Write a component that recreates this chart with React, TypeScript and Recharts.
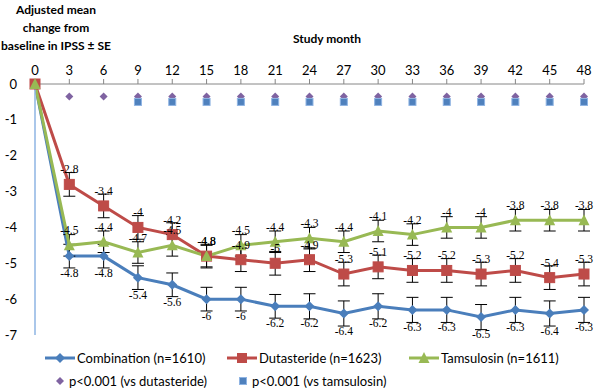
import React from 'react';
import { ComposedChart, Line, Scatter, XAxis, YAxis, ErrorBar, LabelList } from 'recharts';

const months = [0, 3, 6, 9, 12, 15, 18, 21, 24, 27, 30, 33, 36, 39, 42, 45, 48];
const combination = [0, -4.8, -4.8, -5.4, -5.6, -6, -6, -6.2, -6.2, -6.4, -6.2, -6.3, -6.3, -6.5, -6.3, -6.4, -6.3];
const dutasteride = [0, -2.8, -3.4, -4, -4.2, -4.8, -4.9, -5, -4.9, -5.3, -5.1, -5.2, -5.2, -5.3, -5.2, -5.4, -5.3];
const tamsulosin = [0, -4.5, -4.4, -4.7, -4.5, -4.8, -4.5, -4.4, -4.3, -4.4, -4.1, -4.2, -4, -4, -3.8, -3.8, -3.8];
const combinationSE = [0, 0.33, 0.33, 0.33, 0.33, 0.33, 0.33, 0.33, 0.35, 0.35, 0.35, 0.35, 0.35, 0.35, 0.35, 0.35, 0.35];
const dutasterideSE = [0, 0.33, 0.33, 0.33, 0.33, 0.33, 0.33, 0.33, 0.33, 0.33, 0.33, 0.33, 0.33, 0.33, 0.33, 0.33, 0.33];
const tamsulosinSE = [0, 0.3, 0.3, 0.3, 0.3, 0.3, 0.3, 0.3, 0.3, 0.3, 0.3, 0.3, 0.3, 0.3, 0.3, 0.3, 0.3];

const yTicks = [0, -1, -2, -3, -4, -5, -6, -7];

// significance markers sit in a row just under the zero line
const vsDutasterideMonths = [3, 6, 9, 12, 15, 18, 21, 24, 27, 30, 33, 36, 39, 42, 45, 48];
const vsTamsulosinMonths = [9, 12, 15, 18, 21, 24, 27, 30, 33, 36, 39, 42, 45, 48];
const vsDutasteride = vsDutasterideMonths.map(m => ({ month: m, mark: -0.35 }));
const vsTamsulosin = vsTamsulosinMonths.map(m => ({ month: m, mark: -0.5 }));

const data = months.map((m, i) => ({
  month: m,
  combination: combination[i],
  dutasteride: dutasteride[i],
  tamsulosin: tamsulosin[i],
  combinationSE: combinationSE[i],
  dutasterideSE: dutasterideSE[i],
  tamsulosinSE: tamsulosinSE[i],
}));

const BLUE = '#4A7EBB';
const RED = '#BE4B48';
const GREEN = '#98B954';
const PURPLE = '#7F63A1';
const SQ_BLUE = '#4F81BD';

const font = 'Lato, "Open Sans", sans-serif';
const labelStyle = { fontFamily: '"Liberation Serif", serif', fontSize: 11.5, fill: '#000' };
const hideZero = (v: any) => (v === 0 ? '' : v);

const Diamond = (props: any) => {
  const { cx, cy, r = 5, fill } = props;
  if (cx == null || cy == null) return null;
  return <path d={`M${cx},${cy - r}L${cx + r},${cy}L${cx},${cy + r}L${cx - r},${cy}Z`} fill={fill} />;
};

const Square = (props: any) => {
  const { cx, cy, s = 10, fill, stroke } = props;
  if (cx == null || cy == null) return null;
  return <rect x={cx - s / 2} y={cy - s / 2} width={s} height={s} fill={fill} stroke={stroke} />;
};

const Triangle = (props: any) => {
  const { cx, cy, s = 11, fill } = props;
  if (cx == null || cy == null) return null;
  const h = s * 0.9;
  return <path d={`M${cx},${cy - h / 2 - 1}L${cx + s / 2},${cy + h / 2}L${cx - s / 2},${cy + h / 2}Z`} fill={fill} />;
};

const LegendItem = ({ left, top, color, kind, text, line }: any) => (
  <div style={{ position: 'absolute', left, top, height: 16, display: 'flex', alignItems: 'center', fontFamily: font, fontSize: 13, lineHeight: '16px', whiteSpace: 'nowrap' }}>
    <svg width={line ? 30 : 14} height={14} style={{ marginRight: 2 }}>
      {line && <line x1={0} y1={7} x2={30} y2={7} stroke={color} strokeWidth={3} />}
      {kind === 'diamond' && <Diamond cx={line ? 15 : 7} cy={7} r={line ? 5 : 4} fill={color} />}
      {kind === 'square' && <Square cx={line ? 15 : 7} cy={7} s={line ? 10 : 7} fill={color} stroke={line ? undefined : '#8FB4E3'} />}
      {kind === 'triangle' && <Triangle cx={15} cy={7} s={11} fill={color} />}
    </svg>
    <span>{text}</span>
  </div>
);

export default function App() {
  return (
    <div style={{ position: 'relative', width: 594, height: 389, background: '#fff', overflow: 'hidden' }}>
      <style>{'body{margin:0}'}</style>
      <div style={{ position: 'absolute', left: 0, top: 1, width: 112, textAlign: 'center', fontFamily: font, fontWeight: 'bold', fontSize: 12, lineHeight: '18px' }}>
        Adjusted mean<br />change from<br />baseline in IPSS ± SE
      </div>
      <div style={{ position: 'absolute', left: 250, top: 31, width: 154, textAlign: 'center', fontFamily: font, fontWeight: 'bold', fontSize: 12 }}>
        Study month
      </div>
      <ComposedChart width={594} height={389} data={data} margin={{ top: 54, right: 10, bottom: 54, left: 0 }}>
        <XAxis
          dataKey="month"
          type="number"
          orientation="top"
          domain={[0, 48]}
          ticks={months}
          height={30}
          axisLine={{ stroke: '#868686' }}
          tickLine={{ stroke: '#868686' }}
          tickSize={5}
          tickMargin={4}
          tick={{ fontFamily: font, fontSize: 13, fill: '#000' }}
        />
        <YAxis
          type="number"
          domain={[-7, 0]}
          ticks={yTicks}
          width={35}
          axisLine={{ stroke: '#8EB4E3', strokeWidth: 1.5 }}
          tickLine={false}
          tickMargin={12}
          tick={{ fontFamily: font, fontSize: 13, fill: '#000' }}
        />
        <Line dataKey="combination" stroke={BLUE} strokeWidth={3} dot={<Diamond fill={BLUE} r={5} />} isAnimationActive={false}>
          <ErrorBar dataKey="combinationSE" width={6} stroke="#000" strokeWidth={1} />
          <LabelList dataKey="combination" position="bottom" offset={13} formatter={hideZero} style={labelStyle} />
        </Line>
        <Line dataKey="dutasteride" stroke={RED} strokeWidth={3} dot={<Square fill={RED} s={10} />} isAnimationActive={false}>
          <ErrorBar dataKey="dutasterideSE" width={6} stroke="#000" strokeWidth={1} />
          <LabelList dataKey="dutasteride" position="top" offset={11} formatter={hideZero} style={labelStyle} />
        </Line>
        <Line dataKey="tamsulosin" stroke={GREEN} strokeWidth={3} dot={<Triangle fill={GREEN} s={11} />} isAnimationActive={false}>
          <ErrorBar dataKey="tamsulosinSE" width={6} stroke="#000" strokeWidth={1} />
          <LabelList dataKey="tamsulosin" position="top" offset={11} formatter={hideZero} style={labelStyle} />
        </Line>
        <Scatter data={vsDutasteride} dataKey="mark" shape={(p: any) => <Diamond {...p} r={4} fill={PURPLE} />} isAnimationActive={false} />
        <Scatter data={vsTamsulosin} dataKey="mark" shape={(p: any) => <Square {...p} s={7} fill={SQ_BLUE} stroke="#8FB4E3" />} isAnimationActive={false} />
      </ComposedChart>
      <LegendItem left={45} top={350} color={BLUE} kind="diamond" line text="Combination (n=1610)" />
      <LegendItem left={227} top={350} color={RED} kind="square" line text="Dutasteride (n=1623)" />
      <LegendItem left={409} top={350} color={GREEN} kind="triangle" line text="Tamsulosin (n=1611)" />
      <LegendItem left={53} top={373} color={PURPLE} kind="diamond" text="p<0.001 (vs dutasteride)" />
      <LegendItem left={236} top={373} color={SQ_BLUE} kind="square" text="p<0.001 (vs tamsulosin)" />
    </div>
  );
}
